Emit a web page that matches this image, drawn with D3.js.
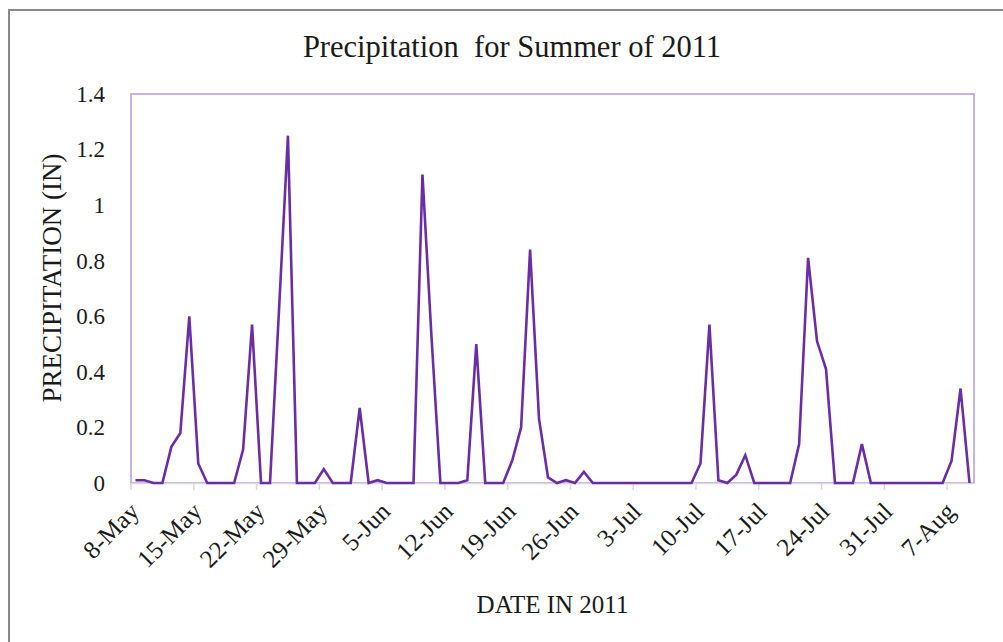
<!DOCTYPE html>
<html>
<head>
<meta charset="utf-8">
<script src="https://cdn.jsdelivr.net/npm/d3@7/dist/d3.min.js"></script>
<style>
  html, body { margin: 0; padding: 0; background: #fff; }
  svg { display: block; }
  text { font-family: "Liberation Serif", "DejaVu Serif", serif; fill: #1a1a1a; }
</style>
</head>
<body>
<svg id="chart" width="1003" height="642"></svg>
<script>
// Daily precipitation (inches), 8 May 2011 through 9 Aug 2011
const startDay = new Date(2011, 4, 8);
const precipitation = [
  0.01, 0.01, 0, 0, 0.13, 0.18, 0.60, 0.07, 0, 0,
  0, 0, 0.12, 0.57, 0, 0, 0.62, 1.25, 0, 0,
  0, 0.05, 0, 0, 0, 0.27, 0, 0.01, 0, 0,
  0, 0, 1.11, 0.53, 0, 0, 0, 0.01, 0.50, 0,
  0, 0, 0.08, 0.20, 0.84, 0.23, 0.02, 0, 0.01, 0,
  0.04, 0, 0, 0, 0, 0, 0, 0, 0, 0,
  0, 0, 0, 0.07, 0.57, 0.01, 0, 0.03, 0.10, 0,
  0, 0, 0, 0, 0.14, 0.81, 0.51, 0.41, 0, 0,
  0, 0.14, 0, 0, 0, 0, 0, 0, 0, 0,
  0, 0.08, 0.34, 0
];
const dates = precipitation.map((_, i) => d3.timeDay.offset(startDay, i));

const xTickLabels = ["8-May", "15-May", "22-May", "29-May", "5-Jun", "12-Jun", "19-Jun",
                     "26-Jun", "3-Jul", "10-Jul", "17-Jul", "24-Jul", "31-Jul", "7-Aug"];
const yTickValues = [0, 0.2, 0.4, 0.6, 0.8, 1, 1.2, 1.4];
const yTickLabels = ["0", "0.2", "0.4", "0.6", "0.8", "1", "1.2", "1.4"];

const titleText = "Precipitation  for Summer of 2011";
const xTitle = "DATE IN 2011";
const yTitle = "PRECIPITATION (IN)";

const svg = d3.select("#chart");
const plot = { left: 131, right: 974, top: 94, bottom: 483 };

const x = d3.scaleBand()
  .domain(dates)
  .range([plot.left, plot.right])
  .paddingInner(0).paddingOuter(0);
const y = d3.scaleLinear().domain([0, 1.4]).range([plot.bottom, plot.top]);
const cx = d => x(d) + x.bandwidth() / 2;

// outer chart border
svg.append("path")
  .attr("d", `M9,642 V10 H1003`)
  .attr("fill", "none")
  .attr("stroke", "#8a8a8a")
  .attr("stroke-width", 2);

// plot frame
svg.append("rect")
  .attr("x", plot.left).attr("y", plot.top)
  .attr("width", plot.right - plot.left).attr("height", plot.bottom - plot.top)
  .attr("fill", "none")
  .attr("stroke", "#b9a2e0")
  .attr("stroke-width", 1.6);

// title
svg.append("text")
  .attr("x", 512).attr("y", 57)
  .attr("text-anchor", "middle")
  .style("font-size", "30.5px")
  .style("white-space", "pre")
  .attr("xml:space", "preserve")
  .text(titleText);

// y axis labels
const weekDates = dates.filter((d, i) => i % 7 === 0);
const yAxis = d3.axisLeft(y)
  .tickValues(yTickValues)
  .tickSize(0)
  .tickPadding(0)
  .tickFormat((d, i) => yTickLabels[i]);
const gy = svg.append("g").attr("transform", `translate(${plot.left - 26},0)`).call(yAxis);
gy.select(".domain").remove();
gy.selectAll("text").style("font-size", "23px").style("font-family", "Liberation Serif").attr("fill", "#1a1a1a");

// x axis: baseline with weekly ticks at category boundaries
const xAxis = d3.axisBottom(x)
  .tickValues(weekDates)
  .tickSize(7)
  .tickFormat((d, i) => xTickLabels[i]);
const gx = svg.append("g").attr("transform", `translate(0,${plot.bottom})`).call(xAxis);
gx.select(".domain").attr("stroke", "#d9d9d9").attr("stroke-width", 1.5)
  .attr("d", `M${plot.left},0.5H${plot.right}`);
gx.selectAll(".tick")
  .attr("transform", d => `translate(${x(d)},0)`);
gx.selectAll(".tick line").attr("stroke", "#d9d9d9").attr("stroke-width", 1.5);
gx.selectAll(".tick text")
  .attr("text-anchor", "end")
  .attr("x", 0).attr("y", 0).attr("dy", 0)
  .attr("transform", `translate(${x.bandwidth() / 2 + 5},30) rotate(-45)`)
  .style("font-size", "25px")
  .style("font-family", "Liberation Serif")
  .attr("fill", "#1a1a1a");

// precipitation line
const line = d3.line()
  .x((v, i) => cx(dates[i]))
  .y(v => y(v));
svg.append("path")
  .datum(precipitation)
  .attr("d", line)
  .attr("fill", "none")
  .attr("stroke", "#6a2da6")
  .attr("stroke-width", 2.6)
  .attr("stroke-linejoin", "miter");

// axis titles
svg.append("text")
  .attr("x", (plot.left + plot.right) / 2).attr("y", 613)
  .attr("text-anchor", "middle")
  .style("font-size", "25px")
  .text(xTitle);

svg.append("text")
  .attr("transform", `translate(61,278) rotate(-90)`)
  .attr("text-anchor", "middle")
  .style("font-size", "27px")
  .text(yTitle);
</script>
</body>
</html>
